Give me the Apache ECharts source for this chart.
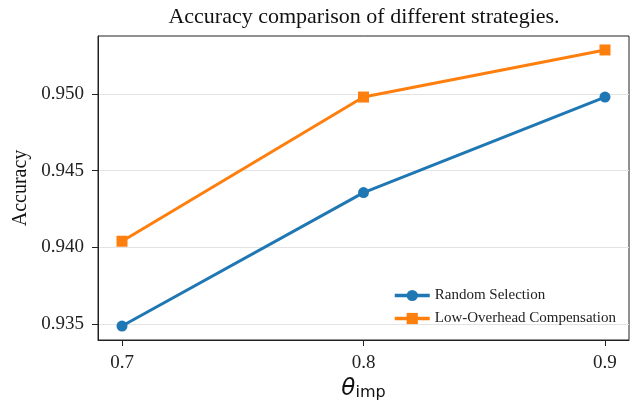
<!DOCTYPE html>
<html><head><meta charset="utf-8">
<script src="https://cdn.jsdelivr.net/npm/echarts@6/dist/echarts.min.js"></script>
<style>html,body{margin:0;padding:0;background:#fff}#c{width:638px;height:404px}</style>
</head><body><div id="c"></div>
<script>
const xValues = [0.7, 0.8, 0.9];
const randomSelection = [0.93487, 0.94357, 0.9498];
const lowOverhead = [0.9404, 0.9498, 0.95287];
const xTicks = [0.7, 0.8, 0.9];
const yTicks = [0.935, 0.940, 0.945, 0.950];
const seriesNames = ['Random Selection', 'Low-Overhead Compensation'];
const titleText = 'Accuracy comparison of different strategies.';

const serif = 'Liberation Serif';
const chart = echarts.init(document.getElementById('c'), null, {renderer: 'canvas'});
const pair = (xs, ys) => xs.map((x, i) => [x, ys[i]]);
chart.setOption({
  animation: false,
  backgroundColor: '#fff',
  graphic: [{type: 'text', x: 364, y: 17,
    style: {text: titleText, x: 0, y: 0, align: 'center', verticalAlign: 'middle',
      font: 'normal 22px "Liberation Serif"', fill: '#111'}}],
  grid: {left: 98, right: 9, top: 36, bottom: 64, show: true, borderColor: '#222', borderWidth: 1,
    backgroundColor: 'transparent', outerBoundsMode: 'none', containLabel: false},
  legend: {left: 388, top: 283, orient: 'vertical', itemWidth: 35, itemHeight: 14, itemGap: 8,
    data: seriesNames, lineStyle: {width: 3.5},
    textStyle: {fontFamily: serif, fontSize: 15, color: '#222'}},
  xAxis: {type: 'value', min: 0.69006, max: 0.90994,
    name: '{t|θ}{s|imp}', nameLocation: 'middle', nameGap: 33,
    nameTextStyle: {rich: {t: {fontFamily: 'DejaVu Sans', fontStyle: 'italic', fontSize: 23, color: '#111', verticalAlign: 'bottom'},
      s: {fontFamily: 'DejaVu Sans', fontSize: 16, color: '#111', padding: [10, 0, 0, 0]}}},
    axisLine: {lineStyle: {color: '#222', width: 1}},
    axisTick: {show: true, length: 6, customValues: xTicks, lineStyle: {color: '#222'}},
    axisLabel: {customValues: xTicks, fontFamily: serif, fontSize: 19, color: '#222', margin: 14,
      formatter: v => v.toFixed(1)},
    splitLine: {show: false}},
  yAxis: {type: 'value', min: 0.93396, max: 0.95378,
    name: 'Accuracy', nameLocation: 'middle', nameGap: 67, nameRotate: 90,
    nameTextStyle: {fontFamily: serif, fontSize: 20, color: '#111'},
    axisLine: {show: true, lineStyle: {color: '#222', width: 1}},
    axisTick: {show: true, length: 6, customValues: yTicks, lineStyle: {color: '#222'}},
    axisLabel: {customValues: yTicks, fontFamily: serif, fontSize: 19, color: '#222', margin: 14,
      formatter: v => v.toFixed(3)},
    splitLine: {show: true, customValues: yTicks, lineStyle: {color: '#e3e3e3', width: 1}}},
  series: [
    {name: seriesNames[0], type: 'line', data: pair(xValues, randomSelection), symbol: 'circle', symbolSize: 11,
      lineStyle: {color: '#1f77b4', width: 3}, itemStyle: {color: '#1f77b4'}},
    {name: seriesNames[1], type: 'line', data: pair(xValues, lowOverhead), symbol: 'rect', symbolSize: 11,
      lineStyle: {color: '#ff7f0e', width: 3}, itemStyle: {color: '#ff7f0e'}}
  ]
});
</script></body></html>
